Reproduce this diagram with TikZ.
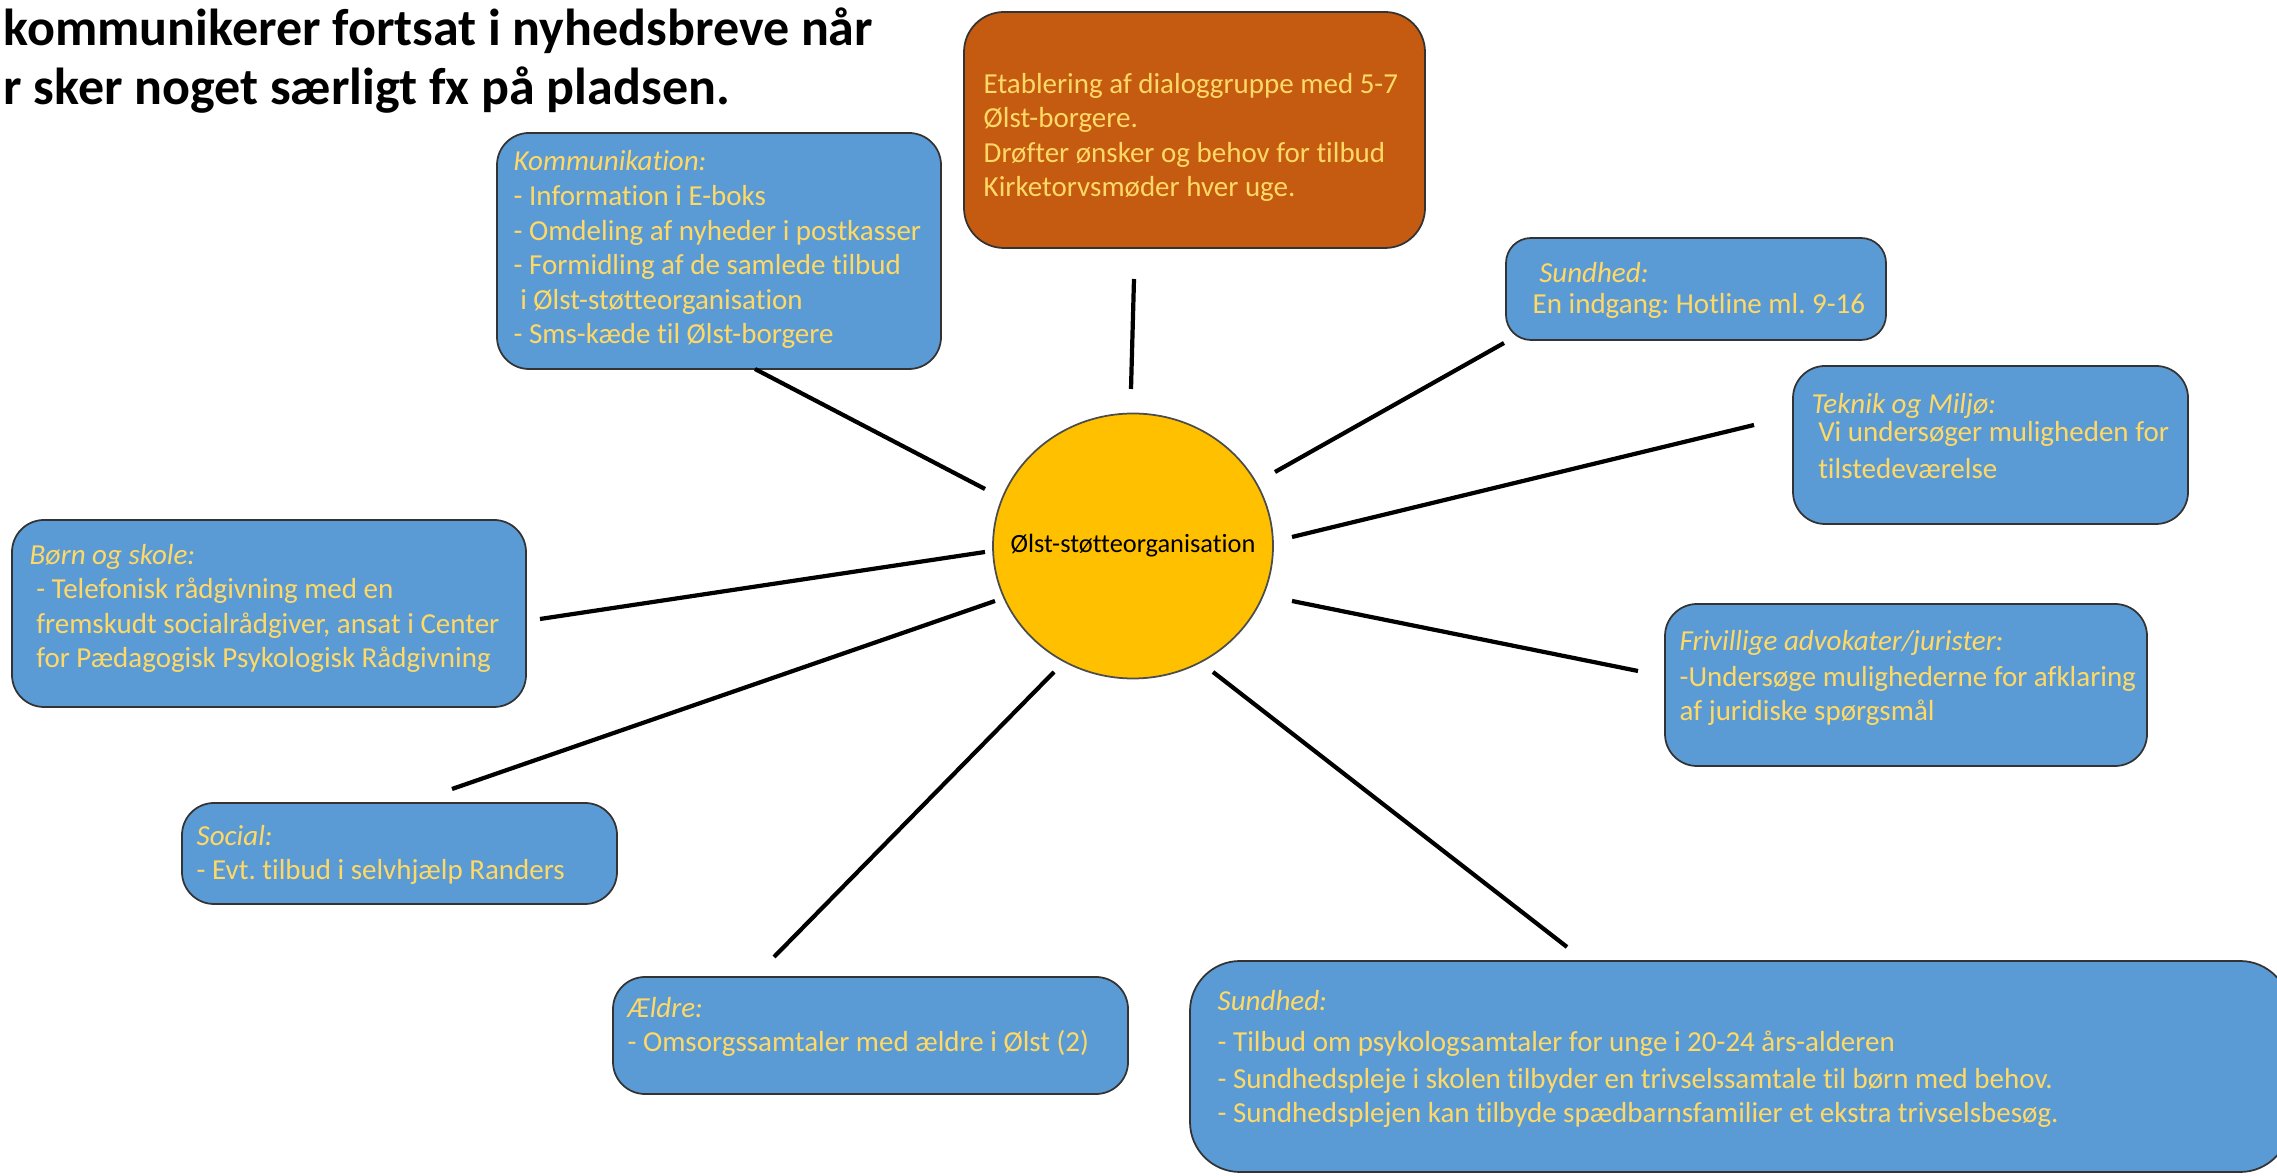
\documentclass[tikz,border=0pt]{standalone}
\usepackage{fontspec}
\setmainfont{Carlito}[Ligatures=NoCommon]
\usetikzlibrary{shapes.geometric}
\definecolor{feltblaa}{HTML}{5B9BD5}
\definecolor{feltorange}{HTML}{C55A11}
\definecolor{solgul}{HTML}{FFC000}
\definecolor{tekstgul}{HTML}{FFD966}
\frenchspacing

\begin{document}
\begin{tikzpicture}
    \tikzset{
    felt/.style={rectangle,rounded corners=0.32cm,fill=feltblaa,draw=black!80,line width=0.5pt,inner sep=0pt},
    plan/.style={felt,fill=feltorange,rounded corners=0.4cm},
    txt/.style={anchor=base west,align=left,inner sep=0pt,text=tekstgul,font=\fontsize{8.25pt}{9.85pt}\selectfont},
    hub/.style={ellipse,fill=solgul,draw=black!70,line width=0.5pt,minimum width=2.8cm,minimum height=2.65cm,inner xsep=-0.6cm,inner ysep=0pt,font=\fontsize{7.5pt}{9pt}\selectfont},
    titel/.style={anchor=base west,align=left,inner sep=0pt,font=\fontsize{14.8pt}{16.8pt}\selectfont\bfseries},
    c1/.style={-,line width=1.2pt},
    }
    \useasboundingbox (0,0) rectangle (22.77,-11.76);

    % tekst-noder er placeret ved grundlinjen af sidste linje
    \node[titel] (overskrift) at (0.03,-1.05) {kommunikerer fortsat i nyhedsbreve når\\r sker noget særligt fx på pladsen.};

    \node[hub] (hub) at (11.33,-5.46) {Ølst-støtteorganisation};

    \node[felt,minimum width=4.44cm,minimum height=2.36cm] (komm) at (7.19,-2.51) {};
    \node[plan,minimum width=4.61cm,minimum height=2.36cm] (dialog) at (11.945,-1.30) {};
    \node[felt,minimum width=3.80cm,minimum height=1.02cm,rounded corners=0.25cm] (sund1) at (16.96,-2.89) {};
    \node[felt,minimum width=3.95cm,minimum height=1.58cm] (teknik) at (19.905,-4.45) {};
    \node[felt,minimum width=5.14cm,minimum height=1.87cm] (boern) at (2.69,-6.135) {};
    \node[felt,minimum width=4.82cm,minimum height=1.62cm] (friv) at (19.06,-6.85) {};
    \node[felt,minimum width=4.35cm,minimum height=1.01cm] (social) at (3.995,-8.535) {};
    \node[felt,minimum width=5.15cm,minimum height=1.17cm] (aeldre) at (8.705,-10.355) {};
    \node[felt,minimum width=11.0cm,minimum height=2.11cm,rounded corners=0.5cm] (sund2) at (17.40,-10.665) {};

    \node[txt] (komm-t) at (5.13,-3.44) {\textit{Kommunikation:}\\- Information i E-boks\\- Omdeling af nyheder i postkasser\\- Formidling af de samlede tilbud\\\ i Ølst-støtteorganisation\\- Sms-kæde til Ølst-borgere};
    \node[txt] (dialog-t) at (9.83,-1.97) {Etablering af dialoggruppe med 5-7\\Ølst-borgere.\\Drøfter ønsker og behov for tilbud\\Kirketorvsmøder hver uge.};
    \node[txt] (sund1-t) at (15.32,-3.14) {\textit{\ Sundhed:}\\[-1pt]En indgang: Hotline ml. 9-16};
    \node[txt] (teknik-t) at (18.11,-4.79) {\textit{Teknik og Miljø:}\\[-1.9pt]\ Vi undersøger muligheden for\\[0.7pt]\ tilstedeværelse};
    \node[txt] (boern-t) at (0.29,-6.68) {\textit{Børn og skole:}\\\ - Telefonisk rådgivning med en\\\ fremskudt socialrådgiver, ansat i Center\\\ for Pædagogisk Psykologisk Rådgivning};
    \node[txt] (friv-t) at (16.79,-7.21) {\textit{Frivillige advokater/jurister:}\\[0.4pt]-Undersøge mulighederne for afklaring\\af juridiske spørgsmål};
    \node[txt] (social-t) at (1.96,-8.80) {\textit{Social:}\\- Evt. tilbud i selvhjælp Randers};
    \node[txt] (aeldre-t) at (6.27,-10.52) {\textit{Ældre:}\\- Omsorgssamtaler med ældre i Ølst (2)};
    \node[txt] (sund2-t) at (12.17,-11.23) {\textit{Sundhed:}\\[1.8pt]- Tilbud om psykologsamtaler for unge i 20-24 års-alderen\\[0.7pt]- Sundhedspleje i skolen tilbyder en trivselssamtale til børn med behov.\\- Sundhedsplejen kan tilbyde spædbarnsfamilier et ekstra trivselsbesøg.};

    % streger fra hub ud mod felterne
    \coordinate (k1) at (9.85,-4.89);   \coordinate (k2) at (7.55,-3.69);
    \coordinate (d1) at (11.31,-3.89);  \coordinate (d2) at (11.34,-2.79);
    \coordinate (s1) at (12.75,-4.72);  \coordinate (s2) at (15.04,-3.43);
    \coordinate (t1) at (12.92,-5.37);  \coordinate (t2) at (17.54,-4.25);
    \coordinate (f1) at (12.92,-6.01);  \coordinate (f2) at (16.38,-6.71);
    \coordinate (u1) at (12.13,-6.72);  \coordinate (u2) at (15.67,-9.47);
    \coordinate (a1) at (10.54,-6.72);  \coordinate (a2) at (7.74,-9.57);
    \coordinate (o1) at (9.95,-6.01);   \coordinate (o2) at (4.52,-7.89);
    \coordinate (b1) at (9.85,-5.52);   \coordinate (b2) at (5.40,-6.19);

    \draw[c1] (k1) -- (k2);
    \draw[c1] (d1) -- (d2);
    \draw[c1] (s1) -- (s2);
    \draw[c1] (t1) -- (t2);
    \draw[c1] (f1) -- (f2);
    \draw[c1] (u1) -- (u2);
    \draw[c1] (a1) -- (a2);
    \draw[c1] (o1) -- (o2);
    \draw[c1] (b1) -- (b2);
\end{tikzpicture}
\end{document}
